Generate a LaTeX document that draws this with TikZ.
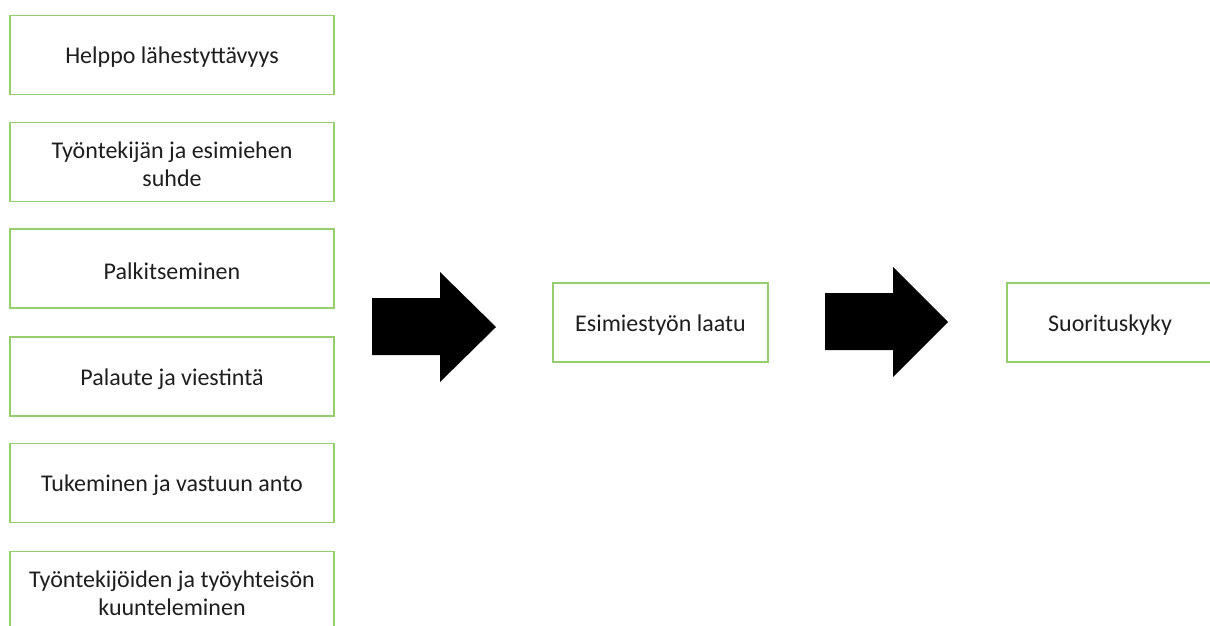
\documentclass[tikz,border=0pt]{standalone}
\usepackage{fontspec}
\setmainfont{Carlito}
\definecolor{boxgreen}{RGB}{150,205,110}
\definecolor{txt}{RGB}{30,30,30}
\begin{document}
\begin{tikzpicture}[x=1pt,y=-1pt,
  box/.style={draw=boxgreen,line width=1.5pt,fill=white,minimum width=324pt,minimum height=79pt,inner sep=0pt},
  lbl/.style={align=center,text=txt,font=\fontsize{24}{28}\selectfont,inner sep=0pt,yshift=-2.5pt},
  blockarrow/.style={fill=black,draw=none}]
\useasboundingbox (0,0) rectangle (1210,625);
\clip (0,0) rectangle (1210,625);
\node[box] (b1) at (172,55) {};
\node[lbl] (b1t) at (b1.center) {Helppo lähestyttävyys};
\node[box] (b2) at (172,162) {};
\node[lbl] (b2t) at (b2.center) {Työntekijän ja esimiehen\\suhde};
\node[box] (b3) at (172,268.5) {};
\node[lbl] (b3t) at (b3.center) {Palkitseminen};
\node[box] (b4) at (172,376.5) {};
\node[lbl] (b4t) at (b4.center) {Palaute ja viestintä};
\node[box] (b5) at (172,483) {};
\node[lbl] (b5t) at (b5.center) {Tukeminen ja vastuun anto};
\node[box] (b6) at (172,591) {};
\node[lbl] (b6t) at (b6.center) {Työntekijöiden ja työyhteisön\\kuunteleminen};
\node[box,minimum width=215pt] (mid) at (660.5,322.5) {};
\node[lbl] (midt) at (mid.center) {Esimiestyön laatu};
\node[box,minimum width=206pt] (res) at (1110,322.5) {};
\node[lbl] (rest) at (res.center) {Suorituskyky};
\fill[blockarrow] (372,298) -- (440,298) -- (440,272) -- (496,327) -- (440,382) -- (440,355) -- (372,355) -- cycle;
\fill[blockarrow] (825,293) -- (893,293) -- (893,267) -- (948,322) -- (893,377) -- (893,350) -- (825,350) -- cycle;
\end{tikzpicture}
\end{document}
